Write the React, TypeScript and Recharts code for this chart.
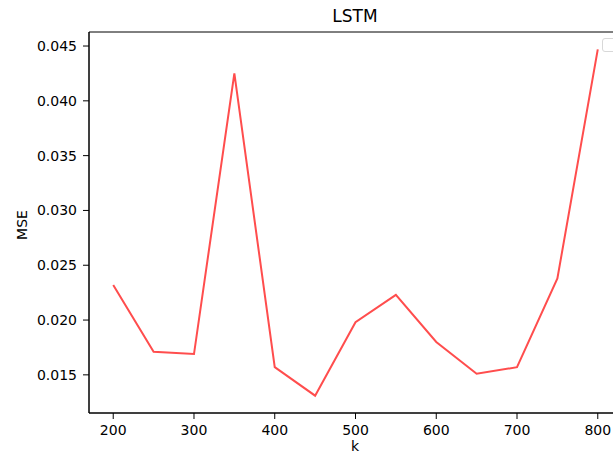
import { LineChart, Line, XAxis, YAxis, ReferenceArea } from "recharts";

const kValues = [200, 250, 300, 350, 400, 450, 500, 550, 600, 650, 700, 750, 800];
const mseValues = [
  0.0232, 0.0171, 0.0169, 0.0425, 0.0157, 0.0131, 0.0198, 0.0223, 0.018, 0.0151, 0.0157,
  0.0238, 0.0447,
];
const xTicks = [200, 300, 400, 500, 600, 700, 800];
const yTicks = [0.015, 0.02, 0.025, 0.03, 0.035, 0.04, 0.045];

const font = "'DejaVu Sans', sans-serif";

export default function App() {
  const data = kValues.map((k, i) => ({ k, mse: mseValues[i] }));

  // matplotlib-like 5% margins
  const xMin = Math.min(...kValues);
  const xMax = Math.max(...kValues);
  const xPad = (xMax - xMin) * 0.05;
  const yMin = Math.min(...mseValues);
  const yMax = Math.max(...mseValues);
  const yPad = (yMax - yMin) * 0.05;
  const xDomain: [number, number] = [xMin - xPad, xMax + xPad];
  const yDomain: [number, number] = [yMin - yPad, yMax + yPad];

  const tickStyle = { fill: "#000", fontSize: 14, fontFamily: font };

  return (
    <div
      style={{
        position: "absolute",
        left: 0,
        top: 0,
        width: 613,
        height: 454,
        overflow: "hidden",
        background: "#fff",
        fontFamily: font,
      }}
    >
      <LineChart width={640} height={454} data={data} margin={{ top: 32, right: 18, bottom: 0, left: 0 }}>
        <XAxis
          dataKey="k"
          type="number"
          domain={xDomain}
          ticks={xTicks}
          allowDataOverflow
          height={41}
          tick={tickStyle}
          tickSize={6}
          tickMargin={6}
          axisLine={{ stroke: "#000" }}
          tickLine={{ stroke: "#000" }}
        />
        <YAxis
          type="number"
          domain={yDomain}
          ticks={yTicks}
          allowDataOverflow
          width={89}
          tick={tickStyle}
          tickSize={6}
          tickMargin={6}
          tickFormatter={(v: number) => v.toFixed(3)}
          axisLine={{ stroke: "#000" }}
          tickLine={{ stroke: "#000" }}
        />
        <ReferenceArea
          x1={xDomain[0]}
          x2={xDomain[1]}
          y1={yDomain[0]}
          y2={yDomain[1]}
          fill="none"
          stroke="#000"
          strokeWidth={1}
          ifOverflow="visible"
        />
        <Line
          type="linear"
          dataKey="mse"
          stroke="#ff4d4d"
          strokeWidth={2}
          dot={false}
          isAnimationActive={false}
        />
      </LineChart>
      <div
        style={{
          position: "absolute",
          left: 255,
          width: 200,
          top: 6,
          textAlign: "center",
          fontSize: 17,
          color: "#000",
        }}
      >
        LSTM
      </div>
      <div
        style={{
          position: "absolute",
          left: 255,
          width: 200,
          top: 439,
          textAlign: "center",
          fontSize: 14,
          lineHeight: "14px",
          color: "#000",
        }}
      >
        k
      </div>
      <div
        style={{
          position: "absolute",
          left: 22,
          top: 225,
          transform: "translate(-50%, -50%) rotate(-90deg)",
          fontSize: 14,
          color: "#000",
          whiteSpace: "nowrap",
        }}
      >
        MSE
      </div>
      <div
        style={{
          position: "absolute",
          left: 602,
          top: 38,
          width: 30,
          height: 12,
          border: "1px solid #d8d8d8",
          borderRadius: 3,
        }}
      />
    </div>
  );
}
